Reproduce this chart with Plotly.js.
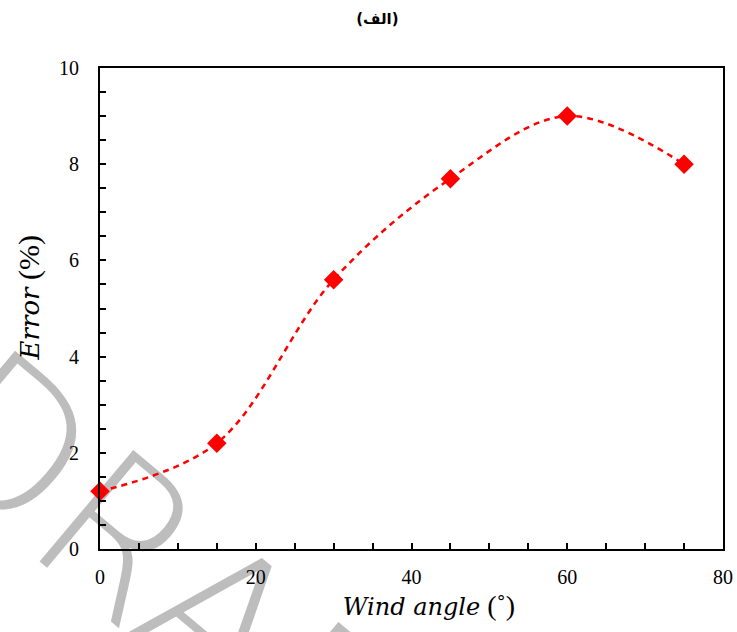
<!DOCTYPE html>
<html>
<head>
<meta charset="utf-8">
<script src="https://cdn.plot.ly/plotly-3.0.1.min.js"></script>
<style>
html,body{margin:0;padding:0;background:#fff;}
#wrap{position:relative;width:737px;height:632px;overflow:hidden;}
#bg,#chart{position:absolute;left:0;top:0;width:737px;height:632px;}
</style>
</head>
<body>
<div id="wrap"><div id="bg"></div><div id="chart"></div></div>
<script>
const windAngle = [0, 15, 30, 45, 60, 75];
const errorPct = [1.2, 2.2, 5.6, 7.7, 9.0, 8.0];
const xTickVals = [0, 20, 40, 60, 80];
const yTickVals = [0, 2, 4, 6, 8, 10];
const watermarkText = 'DRAFT';

const serif = '"Liberation Serif", "DejaVu Serif", serif';
const italicSpan = (s, px) => '<span style="font-family:DejaVu Serif;font-size:' + px + 'px"><i>' + s + '</i></span>';

// background layer: faint watermark
Plotly.newPlot('bg', [], {
  width: 737, height: 632, margin: {l: 0, r: 0, t: 0, b: 0},
  paper_bgcolor: '#ffffff', plot_bgcolor: '#ffffff',
  xaxis: {visible: false, range: [0, 1]}, yaxis: {visible: false, range: [0, 1]},
  annotations: [{
    text: watermarkText, xref: 'paper', yref: 'paper', x: 0.27, y: 0.044,
    xanchor: 'center', yanchor: 'middle', textangle: 40, showarrow: false,
    font: {family: 'DejaVu Sans', size: 200, color: '#bdbdbd', weight: 300}
  }]
}, {displayModeBar: false, staticPlot: true});

const trace = {
  x: windAngle,
  y: errorPct,
  type: 'scatter',
  mode: 'lines+markers',
  line: {color: '#ff0000', width: 2.5, dash: '6px,5px', shape: 'spline', smoothing: 1},
  marker: {symbol: 'diamond', size: 15, color: '#ff0000'},
  cliponaxis: false,
  showlegend: false
};

const layout = {
  width: 737, height: 632,
  margin: {l: 100, r: 14, t: 68, b: 83},
  paper_bgcolor: 'rgba(0,0,0,0)', plot_bgcolor: 'rgba(0,0,0,0)',
  title: {text: '<b>(الف)</b>', font: {family: 'DejaVu Sans', size: 15, color: '#000'}, x: 0.512, xanchor: 'center', y: 0.97, yanchor: 'middle'},
  xaxis: {
    range: [0, 80], tickvals: xTickVals, ticktext: xTickVals.map(String),
    ticks: 'inside', ticklen: 6, tickwidth: 2, tickcolor: '#000',
    minor: {dtick: 5, ticks: 'inside', ticklen: 6, tickwidth: 2, tickcolor: '#000'},
    showline: true, linecolor: '#000', linewidth: 2, mirror: true,
    showgrid: false, zeroline: false,
    tickfont: {family: serif, size: 20, color: '#000'},
    ticklabelstandoff: 9,
    title: {text: '&nbsp;&nbsp;&nbsp;&nbsp;&nbsp;' + italicSpan('Wind angle', 24) + ' (˚)', font: {family: serif, size: 28, color: '#000'}, standoff: 8}
  },
  yaxis: {
    range: [0, 10], tickvals: yTickVals, ticktext: yTickVals.map(String),
    ticks: 'inside', ticklen: 6, tickwidth: 2, tickcolor: '#000',
    minor: {dtick: 0.5, ticks: 'inside', ticklen: 6, tickwidth: 2, tickcolor: '#000'},
    showline: true, linecolor: '#000', linewidth: 2, mirror: true,
    showgrid: false, zeroline: false,
    tickfont: {family: serif, size: 20, color: '#000'},
    ticklabelstandoff: 15,
    title: {text: '&nbsp;&nbsp;&nbsp;' + italicSpan('Error', 26) + ' (%)', font: {family: serif, size: 30, color: '#000'}, standoff: 11}
  }
};

Plotly.newPlot('chart', [trace], layout, {displayModeBar: false, staticPlot: true});
</script>
</body>
</html>
